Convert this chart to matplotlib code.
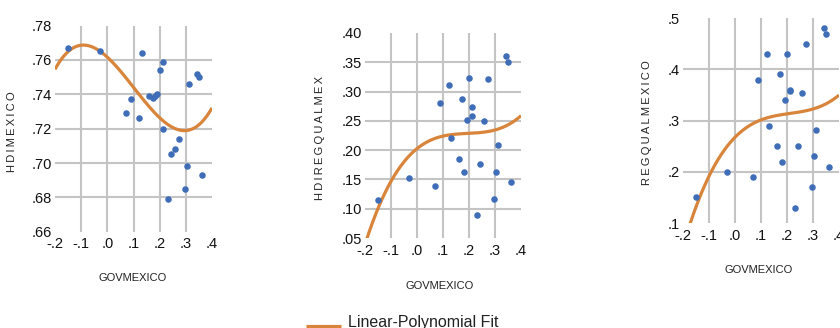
import numpy as np
import matplotlib
matplotlib.use("Agg")
import matplotlib.pyplot as plt

plt.rcParams['font.family'] = ['Liberation Sans', 'DejaVu Sans']

# GOVMEXICO, shared by the three panels
gov = [-0.150, -0.029, 0.071, 0.090, 0.122, 0.131, 0.160, 0.173, 0.181, 0.191,
       0.201, 0.212, 0.212, 0.231, 0.242, 0.258, 0.272, 0.295, 0.304, 0.313,
       0.342, 0.351, 0.360]

hdi = [0.767, 0.765, 0.729, 0.737, 0.726, 0.764, 0.739, 0.738, 0.739, 0.740,
       0.754, 0.759, 0.720, 0.679, 0.705, 0.708, 0.714, 0.685, 0.698, 0.746,
       0.752, 0.750, 0.693]

hdireg = [0.115, 0.153, 0.139, 0.280, 0.311, 0.221, 0.185, 0.287, 0.163, 0.252,
          0.323, 0.273, 0.259, 0.089, 0.176, 0.250, 0.322, 0.117, 0.162, 0.209,
          0.361, 0.351, 0.145]

regqual = [0.151, 0.200, 0.190, 0.379, 0.430, 0.290, 0.250, 0.390, 0.220, 0.340,
           0.430, 0.360, 0.358, 0.130, 0.250, 0.353, 0.449, 0.171, 0.232, 0.281,
           0.481, 0.469, 0.210]

x_ticks = [-0.2, -0.1, 0.0, 0.1, 0.2, 0.3, 0.4]
x_labels = ['-.2', '-.1', '.0', '.1', '.2', '.3', '.4']

y1_ticks = [0.66, 0.68, 0.70, 0.72, 0.74, 0.76, 0.78]
y1_labels = ['.66', '.68', '.70', '.72', '.74', '.76', '.78']
y2_ticks = [0.05, 0.10, 0.15, 0.20, 0.25, 0.30, 0.35, 0.40]
y2_labels = ['.05', '.10', '.15', '.20', '.25', '.30', '.35', '.40']
y3_ticks = [0.1, 0.2, 0.3, 0.4, 0.5]
y3_labels = ['.1', '.2', '.3', '.4', '.5']

W, H = 840, 328
DOT = '#3f6db8'
FIT = '#d9843b'
GRID = '#c4c4c4'

fig = plt.figure(figsize=(W / 100, H / 100), dpi=100)


def px_axes(left, right, top, bottom):
    return fig.add_axes([left / W, 1 - bottom / H, (right - left) / W, (bottom - top) / H])


def spaced(s):
    return '\u2009'.join(s)


panels = [
    ((55, 212, 25.6, 231.7), hdi, y1_ticks, y1_labels, 'HDIMEXICO', (12, 132), (133, 278)),
    ((365, 521, 33, 238), hdireg, y2_ticks, y2_labels, 'HDIREGQUALMEX', (320, 138), (440, 286)),
    ((683, 839, 18, 223.3), regqual, y3_ticks, y3_labels, 'REGQUALMEXICO', (647, 123), (759, 270)),
]

for box, yv, yt, yl, ylab, ypos, xpos in panels:
    ax = px_axes(*box)
    for t in x_ticks[1:-1]:
        ax.axvline(t, color=GRID, lw=1.5, zorder=0)
    for t in yt[1:-1]:
        ax.axhline(t, color=GRID, lw=1.5, zorder=0)

    ax.scatter(gov, yv, s=22, color=DOT, linewidths=0, zorder=3)

    coef = np.polyfit(gov, yv, 3)
    xs = np.linspace(x_ticks[0], x_ticks[-1], 300)
    ax.plot(xs, np.polyval(coef, xs), color=FIT, lw=2.3, zorder=2, solid_capstyle='butt')

    ax.set_xlim(x_ticks[0], x_ticks[-1])
    ax.set_ylim(yt[0], yt[-1])
    ax.set_xticks(x_ticks)
    ax.set_xticklabels(x_labels)
    ax.set_yticks(yt)
    ax.set_yticklabels(yl)
    ax.tick_params(length=0, labelsize=10.5, colors='#111111')
    ax.tick_params(axis='x', pad=4)
    ax.tick_params(axis='y', pad=2)
    for s in ax.spines.values():
        s.set_visible(False)

    fig.text(ypos[0] / W, 1 - ypos[1] / H, spaced(ylab), rotation=90,
             ha='center', va='center', fontsize=8, color='#222222')
    fig.text(xpos[0] / W, 1 - xpos[1] / H, 'GOVMEXICO',
             ha='center', va='center', fontsize=8, color='#222222')

# legend
lx = fig.add_axes([0, 0, 1, 1], facecolor='none')
lx.set_xlim(0, W)
lx.set_ylim(H, 0)
lx.axis('off')
lx.plot([306, 341], [326, 326], color=FIT, lw=2.3, solid_capstyle='butt')
lx.text(348, 322, 'Linear-Polynomial Fit', ha='left', va='center', fontsize=11.5, color='#222222')

fig.savefig('out.png', dpi=100)
